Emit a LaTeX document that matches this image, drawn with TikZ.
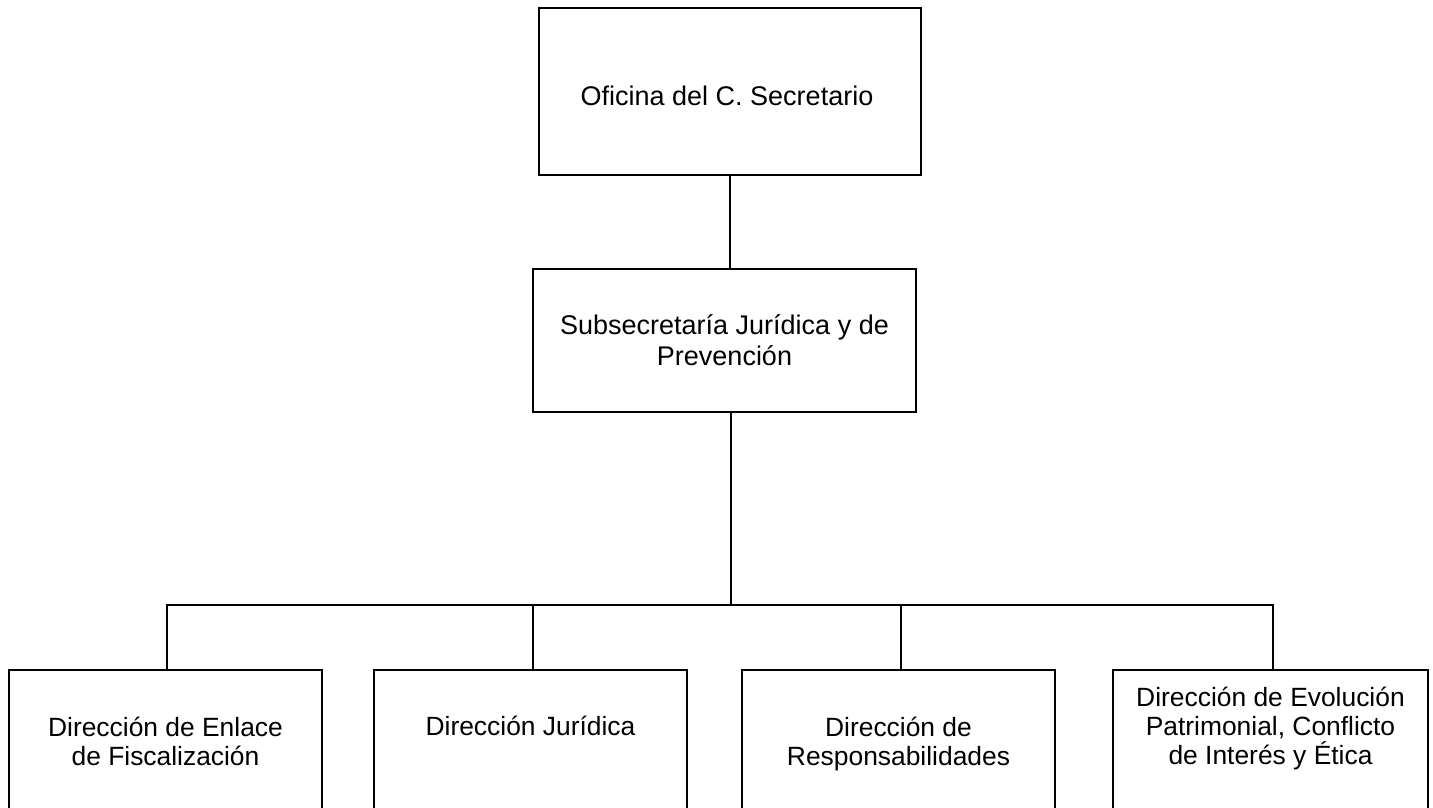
\documentclass[tikz,border=0pt]{standalone}
\usepackage{fontspec}
\setmainfont{Liberation Sans}
\begin{document}
\begin{tikzpicture}[x=1pt,y=-1pt,
  unit/.style={draw=black, line width=1.8pt, rectangle, inner sep=0pt},
  wire/.style={draw=black, line width=1.8pt},
  upper/.style={align=center, anchor=north, inner sep=0pt, font=\fontsize{27}{31.4}\selectfont},
  lower/.style={align=center, anchor=north, inner sep=0pt, font=\fontsize{26.4}{29.3}\selectfont}]
\fill[white] (0,0) rectangle (1433,808);
\useasboundingbox (0,0) rectangle (1433,808);
\clip (0,0) rectangle (1433,808);

% boxes
\node[unit, minimum width=382pt, minimum height=167pt] (b0) at (730,91.5) {};
\node[unit, minimum width=383pt, minimum height=143pt] (b1) at (724.5,340.5) {};
\node[unit, minimum width=313pt, minimum height=180pt] (c1) at (165.5,760) {};
\node[unit, minimum width=313pt, minimum height=180pt] (c2) at (530.5,760) {};
\node[unit, minimum width=313pt, minimum height=180pt] (c3) at (898.5,760) {};
\node[unit, minimum width=315pt, minimum height=180pt] (c4) at (1270.5,760) {};

% labels
\node[upper] (t0) at (727,83) {\strut Oficina del C. Secretario};
\node[upper] (t1) at (724.5,312) {\strut Subsecretaría Jurídica y de\\Prevención};
\node[lower] (u1) at (165.5,715.5) {\strut Dirección de Enlace\\de Fiscalización};
\node[lower] (u2) at (530.5,714.5) {\strut Dirección Jurídica};
\node[lower] (u3) at (898.5,715.5) {\strut Dirección de\\Responsabilidades};
\node[lower] (u4) at (1270.5,685.5) {\strut Dirección de Evolución\\Patrimonial, Conflicto\\de Interés y Ética};

% connectors
\coordinate (j) at (731,605);
\coordinate (d1) at (167,605);
\coordinate (d2) at (533,605);
\coordinate (d3) at (901,605);
\coordinate (d4) at (1273,605);
\draw[wire] (b0.south) -- (b0.south |- b1.north);
\draw[wire] (b1.south -| j) -- (j);
\draw[wire] (d1 |- c1.north) -- (d1) -- (d4) -- (d4 |- c4.north);
\draw[wire] (d2) -- (d2 |- c2.north);
\draw[wire] (d3) -- (d3 |- c3.north);
\end{tikzpicture}
\end{document}
